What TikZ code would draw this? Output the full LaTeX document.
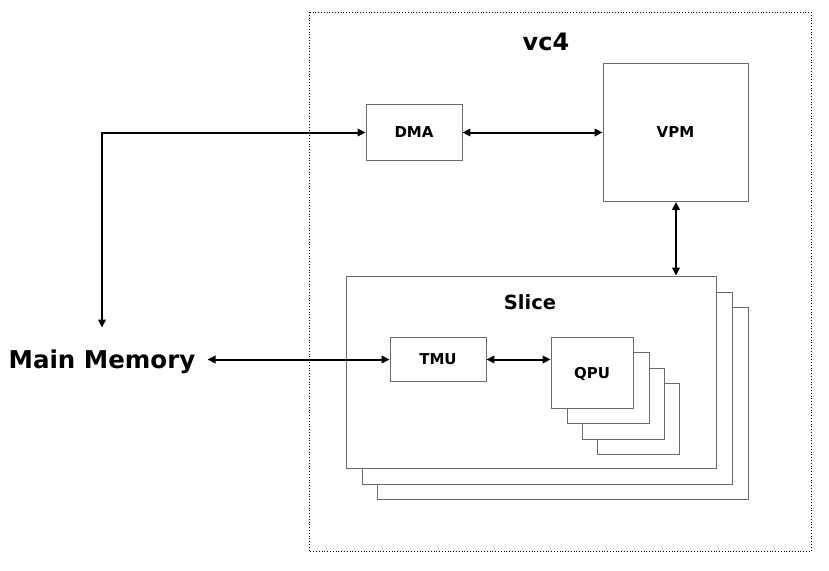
\documentclass[tikz,border=0pt]{standalone}
\usepackage{fontspec}
\setmainfont{DejaVu Sans}
\usetikzlibrary{arrows.meta}
\begin{document}
\begin{tikzpicture}[x=1pt,y=-1pt,
  box/.style={draw=black!58, line width=0.9pt, fill=white, rectangle, inner sep=0pt, font=\bfseries\fontsize{15}{18}\selectfont},
  conn/.style={line width=2pt, {Triangle[length=8pt,width=7.5pt]}-{Triangle[length=8pt,width=7.5pt]}}
]
\useasboundingbox (0,0) rectangle (829,570);
% outer vc4 box
\draw[dotted, line width=0.8pt] (309,12) rectangle (811,551);
\node[font=\bfseries\fontsize{24}{28}\selectfont] (vc4) at (546,42) {vc4};
% DMA and VPM
\node[box, minimum width=96pt, minimum height=56pt] (dma) at (414,132.5) {DMA};
\node[box, minimum width=145pt, minimum height=138pt] (vpm) at (675.5,132.5) {VPM};
% slice stack
\node[box, minimum width=371pt, minimum height=192pt] (slice3) at (562.5,403) {};
\node[box, minimum width=370pt, minimum height=192pt] (slice2) at (547,388) {};
\node[box, minimum width=370pt, minimum height=192pt] (slice) at (531,372) {};
\node[font=\bfseries\fontsize{19.5}{23}\selectfont] (slicelabel) at (530,302) {Slice};
\node[box, minimum width=96pt, minimum height=44pt] (tmu) at (438,359.5) {TMU};
% QPU stack
\node[box, minimum width=82pt, minimum height=71pt] (qpu4) at (638,418.5) {};
\node[box, minimum width=82pt, minimum height=71pt] (qpu3) at (623,403.5) {};
\node[box, minimum width=82pt, minimum height=71pt] (qpu2) at (608,388) {};
\node[box, minimum width=82pt, minimum height=71pt] (qpu) at (592,372.5) {};
\node[font=\bfseries\fontsize{15}{18}\selectfont] (qpulabel) at (592,374) {QPU};
% main memory
\node[inner sep=0pt, font=\bfseries\fontsize{24.5}{29}\selectfont] (mm) at (102,361.5) {Main Memory};
% connectors
\draw[conn] ([yshift=34pt]mm.center) |- (dma.west);
\draw[conn] (dma.east) -- (vpm.west);
\draw[conn] (vpm.south -| 676,0) -- (slice.north -| 676,0);
\draw[conn] ([xshift=12pt]mm.east |- tmu.west) -- (tmu.west);
\draw[conn] (tmu.east) -- (qpu.west |- tmu.east);
\end{tikzpicture}
\end{document}
